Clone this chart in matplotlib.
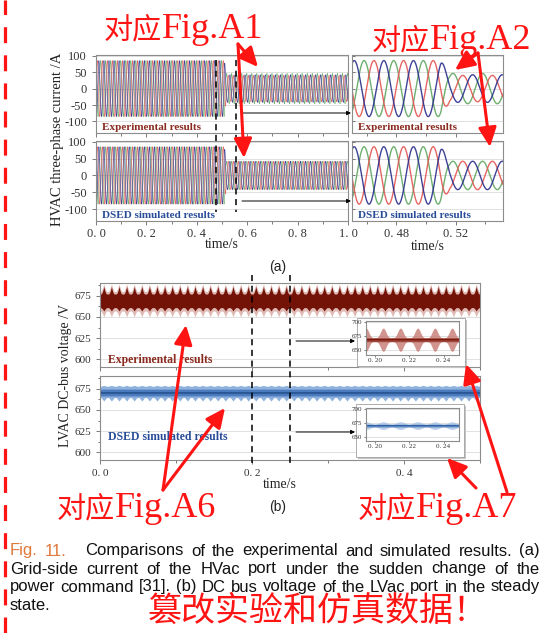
import numpy as np
import matplotlib
matplotlib.use("Agg")
import matplotlib.pyplot as plt
from matplotlib.patches import Rectangle, FancyArrowPatch, ArrowStyle
from matplotlib.lines import Line2D
from matplotlib.ticker import MultipleLocator, FuncFormatter, NullFormatter
from matplotlib.transforms import blended_transform_factory

plt.rcParams['font.family'] = ['Liberation Serif', 'DejaVu Serif']
plt.rcParams['axes.unicode_minus'] = False

# (a) HVAC grid-side three-phase current
grid_freq = 50.0                      # Hz
step_time = 0.51                      # s, power command change
step_ramp = 0.006                     # s
amp_before = [85.0, 85.0, 85.0]       # A, order: blue / green / red
amp_after_exp = [42.0, 46.0, 40.0]
amp_after_sim = [42.0, 42.0, 42.0]
phase_lag = [0.0, 120.0, 240.0]       # deg
phase_colors = ['#2a2e8c', '#5fa65f', '#e25552']
peak_time = 0.4515                    # crest of the blue phase
zoom_window_a = [0.45, 0.552]
marker_times_a = [0.476, 0.556]
current_ticks = [-100, -50, 0, 50, 100]

# (b) LVAC DC-bus voltage
ripple_freq = 100.0                   # Hz
exp_dark = [661.0, 677.0, 686.0]      # V: band bottom, band top, spike top
exp_light = [650.0, 680.0, 689.0]
sim_mean = 670.0
sim_core = [666.5, 674.5]
sim_band = [664.5, 678.0]
sim_notch = 660.5
inset_window = [0.195, 0.249]
inset_exp = [669.0, 3.5, 17.0]       # centre, base spread, burst spread
inset_sim = [670.0, 2.5, 4.5]
marker_times_b = [0.2, 0.25]
voltage_ticks = [600, 625, 650, 675]
inset_vticks = [650, 675, 700]
inset_tticks = [0.20, 0.22, 0.24]

RED = '#ff1414'
EXP_C = '#8a2a1e'
SIM_C = '#284c98'

W, H = 545, 633
fig = plt.figure(figsize=(W / 100, H / 100), dpi=100)


def place(x0, y0, x1, y1):
    return fig.add_axes([x0 / W, 1 - y1 / H, (x1 - x0) / W, (y1 - y0) / H])


def fpt(x, y):
    return (x / W, 1 - y / H)


def frame(ax, size=9):
    for s in ax.spines.values():
        s.set_color('#8c8c8c')
        s.set_linewidth(0.8)
    ax.tick_params(which='both', colors='#666666', labelcolor='#333333',
                   width=0.6, direction='out', labelsize=size)
    ax.tick_params(which='major', length=3)
    ax.tick_params(which='minor', length=1.8)
    ax.set_axisbelow(True)
    ax.grid(axis='y', color='#dcdcdc', lw=0.6)


def spaced(fmt):
    return FuncFormatter(lambda v, p: format(v, fmt).replace('.', '. '))


def phase_currents(t, amp_after):
    k = np.clip((t - step_time) / step_ramp, 0, 1)
    out = []
    for a0, a1, lag in zip(amp_before, amp_after, phase_lag):
        amp = a0 + (a1 - a0) * k
        out.append(amp * np.cos(2 * np.pi * grid_freq * (t - peak_time) - np.deg2rad(lag)))
    return out


# ---------- (a) ----------
t_full = np.linspace(0, 1, 24001)
t_zoom = np.linspace(zoom_window_a[0], zoom_window_a[1], 3001)
rows = [(55, 133, amp_after_exp, 'Experimental results', EXP_C),
        (141, 221, amp_after_sim, 'DSED simulated results', SIM_C)]
left_axes = []
for r, (y0, y1, amp_after, label, lc) in enumerate(rows):
    axl = place(96, y0, 348, y1)
    axr = place(352, y0, 503, y1)
    left_axes.append(axl)
    for ax, t, lw in ((axl, t_full, 0.45), (axr, t_zoom, 1.0)):
        frame(ax)
        cur = phase_currents(t, amp_after)
        for i in (1, 2, 0):
            ax.plot(t, cur[i], color=phase_colors[i], lw=lw, alpha=0.9)
        ax.set_ylim(-135, 102)
        ax.set_yticks(current_ticks)
        ax.set_xlim(t[0], t[-1])
        ax.tick_params(axis='x', pad=2)
    axl.xaxis.set_major_locator(MultipleLocator(0.2))
    axl.xaxis.set_minor_locator(MultipleLocator(0.1))
    axl.xaxis.set_major_formatter(spaced('.1f'))
    axr.set_xticks([0.48, 0.52])
    axr.xaxis.set_minor_locator(MultipleLocator(0.02))
    axr.xaxis.set_major_formatter(spaced('.2f'))
    axr.yaxis.set_major_formatter(NullFormatter())
    axr.tick_params(axis='y', direction='in', length=2)
    if r == 0:
        axl.tick_params(labelbottom=False)
        axr.tick_params(labelbottom=False)
    axl.text(0.024, 0.075, label, transform=axl.transAxes, fontsize=8,
             weight='bold', color=lc, va='center')
    axr.text(0.04, 0.075, label, transform=axr.transAxes, fontsize=8,
             weight='bold', color=lc, va='center')

tr_a = blended_transform_factory(left_axes[0].transData, fig.transFigure)
for tm in marker_times_a:
    fig.add_artist(Line2D([tm, tm], [1 - 60 / H, 1 - 212 / H], transform=tr_a,
                          color='k', lw=1.1, ls=(0, (4, 3))))
for yy in (113, 201):
    fig.add_artist(FancyArrowPatch(fpt(242, yy), fpt(351, yy), transform=fig.transFigure,
                                   arrowstyle='-|>', mutation_scale=6, color='k', lw=0.7,
                                   shrinkA=0, shrinkB=0))

fig.text(*fpt(58, 139), 'HVAC three-phase current /A', rotation=90, fontsize=10.5,
         ha='center', va='center', color='#222222')
fig.text(*fpt(222, 245), 'time/s', fontsize=10, ha='center', va='center', color='#222222')
fig.text(*fpt(428, 246), 'time/s', fontsize=10, ha='center', va='center', color='#222222')
fig.text(*fpt(278, 267), '(a)', fontsize=10, ha='center', va='center',
         family='Liberation Sans', color='#222222')

# ---------- (b) ----------
t_dc = np.linspace(0, 0.5, 20001)
ph = (t_dc * ripple_freq) % 1.0
spike = np.clip(1 - np.abs(ph - 0.5) / 0.4, 0, 1) ** 1.5
tooth = np.clip(1 - np.abs(ph - 0.5) / 0.35, 0, 1)

axe = place(100, 283, 480, 367)
axs = place(100, 376, 480, 460)
for ax in (axe, axs):
    frame(ax, size=8)
    ax.set_xlim(0, 0.5)
    ax.set_ylim(591, 690)
    ax.set_yticks(voltage_ticks)
    ax.yaxis.set_minor_locator(MultipleLocator(12.5))
    ax.xaxis.set_major_locator(MultipleLocator(0.2))
    ax.xaxis.set_minor_locator(MultipleLocator(0.1))
    ax.xaxis.set_major_formatter(spaced('.1f'))
axe.tick_params(labelbottom=False)

# experimental: dense switching band with 100 Hz spikes
axe.fill_between(t_dc, exp_light[0] + 7 * (1 - spike),
                 exp_light[1] + (exp_light[2] - exp_light[1]) * spike,
                 color='#b8675c', alpha=0.45, lw=0)
axe.fill_between(t_dc, exp_dark[0] - 4 * spike,
                 exp_dark[1] + (exp_dark[2] - exp_dark[1]) * spike ** 1.3,
                 color='#731206', lw=0)
axe.text(0.021, 0.085, 'Experimental results', transform=axe.transAxes, fontsize=8.5,
         weight='bold', color=EXP_C, va='center')

# simulated: smoother band with 100 Hz notches
axs.fill_between(t_dc, sim_band[0] - (sim_band[0] - sim_notch) * tooth,
                 sim_band[1] + 1.0 * tooth, color='#8fb1de', lw=0)
axs.fill_between(t_dc, np.full_like(t_dc, sim_core[0]), np.full_like(t_dc, sim_core[1]),
                 color='#4b7bbd', lw=0)
axs.plot(t_dc, np.full_like(t_dc, sim_mean), color='#1f4a88', lw=1.0)
axs.text(0.021, 0.27, 'DSED simulated results', transform=axs.transAxes, fontsize=8.5,
         weight='bold', color=SIM_C, va='center')

tr_b = blended_transform_factory(axe.transData, fig.transFigure)
for tm in marker_times_b:
    fig.add_artist(Line2D([tm, tm], [1 - 275 / H, 1 - 463 / H], transform=tr_b,
                          color='k', lw=1.1, ls=(0, (4, 3))))
for yy in (341, 432):
    fig.add_artist(FancyArrowPatch(fpt(296, yy), fpt(355, yy), transform=fig.transFigure,
                                   arrowstyle='-|>', mutation_scale=6, color='k', lw=0.7,
                                   shrinkA=0, shrinkB=0))

# zoomed insets, drawn above the main axes
t_in = np.linspace(inset_window[0], inset_window[1], 4001)
phi = (t_in * ripple_freq) % 1.0
burst = np.sin(np.pi * phi) ** 4
lobe = np.sin(np.pi * phi) ** 2
insets = [((357, 318, 465, 366), (366, 321, 459, 355), inset_exp, burst, '#c77a72', '#7a1408'),
          ((356, 404, 464, 457), (366, 408, 459, 441), inset_sim, lobe, '#a9c3e6', '#2f62a6')]
for (fx0, fy0, fx1, fy1), (ax0, ay0, ax1, ay1), (c, base, amp), shape, light, dark in insets:
    fig.add_artist(Rectangle(fpt(fx0 + 2, fy1 + 2), (fx1 - fx0) / W, (fy1 - fy0) / H,
                             transform=fig.transFigure, facecolor='#c4c4c4', lw=0,
                             zorder=3))
    fig.add_artist(Rectangle(fpt(fx0, fy1), (fx1 - fx0) / W, (fy1 - fy0) / H,
                             transform=fig.transFigure, facecolor='white',
                             edgecolor='#a0a0a0', lw=0.6, zorder=3.1))
    ai = place(ax0, ay0, ax1, ay1)
    ai.set_zorder(4)
    frame(ai, size=5)
    ai.tick_params(which='major', length=1.5, pad=1)
    spread = base + amp * shape
    ai.fill_between(t_in, c - spread, c + spread, color=light, alpha=0.8, lw=0)
    ai.fill_between(t_in, c - base, c + base, color=dark, alpha=0.6, lw=0)
    ai.plot(t_in, np.full_like(t_in, c), color=dark, lw=0.9)
    ai.set_xlim(*inset_window)
    ai.set_ylim(642, 702)
    ai.set_yticks(inset_vticks)
    ai.set_xticks(inset_tticks)
    ai.xaxis.set_major_formatter(spaced('.2f'))

fig.text(*fpt(66, 376), 'LVAC DC-bus voltage /V', rotation=90, fontsize=10,
         ha='center', va='center', color='#222222')
fig.text(*fpt(280, 484), 'time/s', fontsize=10, ha='center', va='center', color='#222222')
fig.text(*fpt(278, 507), '(b)', fontsize=10, ha='center', va='center',
         family='Liberation Sans', color='#222222')

# ---------- caption ----------
ORANGE = '#e0783a'


def caption_line(y, words, x0=10, x1=540, size=12, justify=True, extra=None):
    # words share one baseline; gaps are stretched so the line fills x0..x1
    rend = fig.canvas.get_renderer()
    arts = [fig.text(0, 1 - (y + 4.5) / H, w, color=c, fontsize=size,
                     family='Liberation Sans', va='baseline') for w, c in words]
    widths = [a.get_window_extent(rend).width for a in arts]
    extra = extra or {}
    if justify:
        gap = (x1 - x0 - sum(widths) - sum(extra.values())) / (len(arts) - 1)
    else:
        gap = size * 100 / 72 * 0.28
    x = x0
    for i, (a, w) in enumerate(zip(arts, widths)):
        a.set_x(x / W)
        x += w + gap + extra.get(i, 0)


def words_of(text, color='#111111'):
    return [(w, color) for w in text.split()]


caption_line(551, words_of('Fig. 11.', ORANGE) +
             words_of('Comparisons of the experimental and simulated results. (a)'),
             extra={1: 12})
caption_line(569, words_of('Grid-side current of the HVac port under the sudden change of the'))
caption_line(587, words_of('power command [31]. (b) DC bus voltage of the LVac port in the steady'))
caption_line(605, words_of('state.'), justify=False)

# ---------- red annotations ----------
fig.add_artist(Line2D([5 / W, 5 / W], [0, 1], transform=fig.transFigure, color=RED,
                      lw=2.3, ls=(0, (5, 3.8))))


def red_tag(x, y, tag):
    fig.text(*fpt(x, y), '对应', fontsize=21, color=RED,
             family=['Noto Sans CJK SC'], va='baseline')
    fig.text(*fpt(x + 58, y), tag, fontsize=26, color=RED, va='baseline')


red_tag(104, 38, 'Fig.A1')
red_tag(372, 49, 'Fig.A2')
red_tag(57, 517, 'Fig.A6')
red_tag(358, 517, 'Fig.A7')

fig.text(*fpt(148, 611), '篡改实验和仿真数据！', fontsize=24.5, color=RED,
         family=['Noto Sans CJK SC'], va='center', zorder=6)

red_style = ArrowStyle('-|>', head_length=0.9, head_width=0.42)
red_arrows = [((238, 44), (258, 67)), ((238, 44), (244, 158)),
              ((478, 53), (455, 70)), ((478, 53), (490, 147)),
              ((163, 490), (186, 325)), ((163, 490), (225, 408)),
              ((507, 492), (466, 364)), ((476, 488), (447, 458))]
for start, end in red_arrows:
    fig.add_artist(FancyArrowPatch(fpt(*start), fpt(*end), transform=fig.transFigure,
                                   arrowstyle=red_style, mutation_scale=13, color=RED,
                                   lw=2.2, shrinkA=0, shrinkB=0, zorder=6))

fig.savefig('out.png', dpi=100)
